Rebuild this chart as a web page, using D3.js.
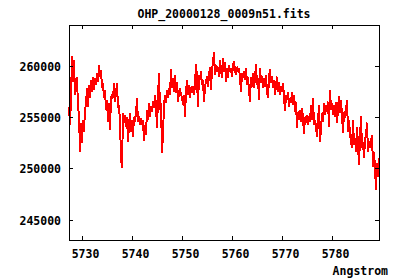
<!DOCTYPE html>
<html>
<head>
<meta charset="utf-8">
<script src="https://cdn.jsdelivr.net/npm/d3@7"></script>
<style>
  html, body { margin: 0; padding: 0; background: #fff; }
  svg text { font-family: "DejaVu Sans Mono", monospace; font-weight: bold; font-size: 11.5px; fill: #000; }
</style>
</head>
<body>
<svg id="chart" width="400" height="280"></svg>
<script>
const title = 'OHP_20000128_0009n51.fits';
const xLabel = 'Angstrom';

// wavelength of first pixel and dispersion (FITS CRVAL1 / CDELT1)
const crval1 = 5727.3;
const cdelt1 = 0.2;

const xTicks = [5730, 5740, 5750, 5760, 5770, 5780];
const yTicks = [245000, 250000, 255000, 260000];
const yDomain = [243000, 264000];

const flux = [
  256030, 254240, 256840, 260980, 258470, 260590, 257170, 258150, 258890, 256030,
  255220, 251630, 254400, 252450, 254730, 253590, 255700, 256190, 257820, 256030,
  258150, 256840, 258630, 257490, 258960, 257660, 258800, 258150, 259280, 258470,
  260100, 258960, 259610, 257820, 258310, 256840, 257660, 255700, 256680, 254560,
  256360, 253750, 257000, 257170, 256840, 258310, 256520, 257330, 258310, 255870,
  256190, 254560, 251050, 250070, 255380, 254400, 255220, 254080, 255050, 252610,
  254240, 255380, 253590, 254730, 253100, 255050, 254560, 255380, 256840, 254560,
  255050, 254240, 254890, 254240, 254730, 252710, 254240, 253260, 255700, 254730,
  256360, 255050, 256030, 255540, 256520, 255870, 257170, 256190, 253910, 256840,
  259350, 255700, 256360, 251540, 253260, 256190, 257170, 256360, 257660, 256840,
  257820, 257170, 259710, 257820, 258800, 257490, 259120, 257330, 258470, 256520,
  257490, 257820, 257170, 257000, 256190, 257170, 255050, 257490, 258630, 257170,
  258150, 256840, 257980, 257330, 257980, 257170, 258150, 260200, 258800, 255960,
  259120, 258630, 259450, 258150, 258630, 256520, 257980, 258470, 258960, 257980,
  259120, 259930, 257660, 259770, 260260, 261370, 259120, 260100, 259450, 259930,
  258960, 260590, 259610, 258800, 260750, 259450, 260420, 258470, 259770, 258800,
  260100, 259450, 259770, 258960, 260100, 260490, 259610, 259120, 259930, 259450,
  259770, 258800, 257490, 259280, 258800, 259450, 258630, 259770, 258150, 258960,
  257660, 256520, 258960, 257980, 259280, 257820, 258800, 260160, 258150, 258800,
  256680, 259770, 258470, 258960, 257820, 258800, 257980, 259120, 257490, 256840,
  258800, 259710, 258310, 258960, 257820, 258630, 257170, 258150, 258960, 257490,
  258470, 257170, 257980, 257490, 258310, 257000, 255600, 257170, 256680, 257490,
  256030, 256840, 256360, 257490, 256190, 257170, 255540, 256520, 253910, 255540,
  254730, 255700, 254560, 255870, 255050, 253330, 255050, 254400, 255220, 254240,
  255050, 254560, 256190, 254730, 256840, 254240, 254730, 254080, 253100, 254560,
  256190, 252610, 253910, 255380, 254560, 256360, 255220, 256190, 255540, 256520,
  254080, 257660, 255700, 256360, 255220, 256190, 255050, 256520, 254400, 255870,
  257070, 255380, 256680, 255220, 253430, 255540, 254890, 255700, 256680, 253590,
  254730, 253430, 252610, 251960, 254730, 252290, 252940, 251630, 254080, 252290,
  250330, 252940, 255120, 251960, 252610, 250980, 252780, 253260, 254470, 251630,
  252610, 251960, 252610, 253260, 250170, 251630, 250010, 247900, 250500, 249200, 251000
];

const plot = {left: 69, right: 379, top: 25, bottom: 240};
const tickLen = 4;

const svg = d3.select('#chart');

const data = flux.map((f, i) => ({lambda: crval1 + i * cdelt1, flux: f}));

const x = d3.scaleLinear()
    .domain(d3.extent(data, d => d.lambda))
    .range([plot.left, plot.right]);

const y = d3.scaleLinear()
    .domain(yDomain)
    .range([plot.bottom, plot.top]);

// Spectrum
svg.append('path')
    .datum(data)
    .attr('d', d3.line().x(d => x(d.lambda)).y(d => y(d.flux)))
    .style('fill', 'none')
    .style('stroke', '#ff0000')
    .style('stroke-width', 2)
    .style('stroke-linejoin', 'bevel')
    .style('shape-rendering', 'crispEdges');

// Frame
svg.append('rect')
    .attr('x', plot.left + 0.5)
    .attr('y', plot.top + 0.5)
    .attr('width', plot.right - plot.left)
    .attr('height', plot.bottom - plot.top)
    .style('fill', 'none')
    .style('stroke', '#000')
    .style('stroke-width', 1)
    .style('shape-rendering', 'crispEdges');

// X ticks, mirrored on top
const xt = svg.append('g').style('stroke', '#000').style('shape-rendering', 'crispEdges');
xTicks.forEach(t => {
    const px = Math.round(x(t)) + 0.5;
    xt.append('line').attr('x1', px).attr('x2', px)
        .attr('y1', plot.bottom).attr('y2', plot.bottom - tickLen);
    xt.append('line').attr('x1', px).attr('x2', px)
        .attr('y1', plot.top).attr('y2', plot.top + tickLen);
});

svg.selectAll('.xLabel')
    .data(xTicks)
    .join('text')
        .classed('xLabel', true)
        .attr('x', d => x(d) + 3)
        .attr('y', 258)
        .style('text-anchor', 'middle')
        .text(d => d);

// Y ticks, mirrored on right
const yt = svg.append('g').style('stroke', '#000').style('shape-rendering', 'crispEdges');
yTicks.forEach(t => {
    const py = Math.round(y(t)) + 0.5;
    yt.append('line').attr('x1', plot.left).attr('x2', plot.left + tickLen)
        .attr('y1', py).attr('y2', py);
    yt.append('line').attr('x1', plot.right).attr('x2', plot.right - tickLen)
        .attr('y1', py).attr('y2', py);
});

svg.selectAll('.yLabel')
    .data(yTicks)
    .join('text')
        .classed('yLabel', true)
        .attr('x', 61)
        .attr('y', d => y(d) + 5)
        .style('text-anchor', 'end')
        .text(d => d);

// Title and axis label
svg.append('text')
    .attr('x', (plot.left + plot.right) / 2)
    .attr('y', 18)
    .style('text-anchor', 'middle')
    .text(title);

svg.append('text')
    .attr('x', 388)
    .attr('y', 275)
    .style('text-anchor', 'end')
    .text(xLabel);
</script>
</body>
</html>
